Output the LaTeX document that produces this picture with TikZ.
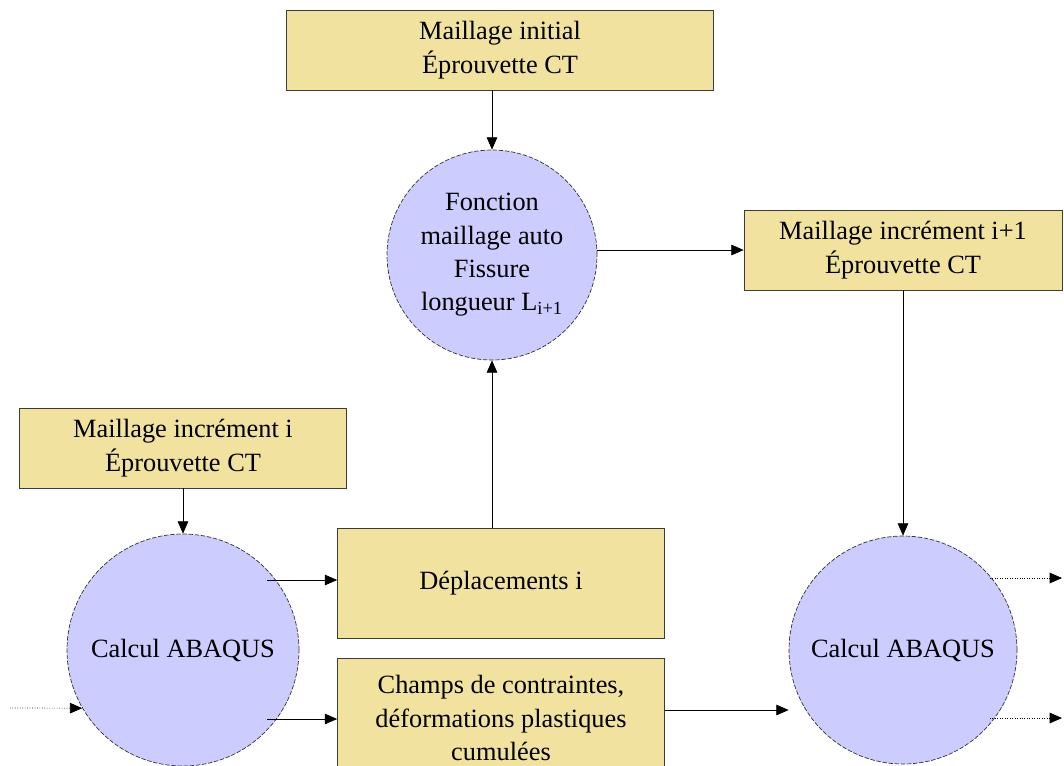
\documentclass[tikz,border=0pt]{standalone}
\usepackage{fontspec}
\setmainfont{Liberation Serif}
\usetikzlibrary{arrows.meta}

\definecolor{boitejaune}{RGB}{241,226,160}
\definecolor{rondmauve}{RGB}{204,204,255}
\definecolor{traitgris}{RGB}{60,60,60}

\tikzset{
  boite/.style={draw=traitgris, fill=boitejaune, thin, align=center,
    inner sep=0pt, font=\fontsize{15}{19}\selectfont},
  rond/.style={circle, draw=black!80, fill=rondmauve, dash pattern=on 2.5pt off 1pt,
    thin, align=center, inner sep=0pt, font=\fontsize{15}{19}\selectfont},
  fleche/.style={-{Triangle[length=7pt,width=6pt]}, black, thin},
  pointille/.style={fleche, densely dotted}
}

\begin{document}
\begin{tikzpicture}[x=0.02cm, y=-0.02cm]

  \useasboundingbox (0,0) rectangle (1064,765);
  \clip (0,0) rectangle (1064,765);

  % boites de maillage
  \node[boite, minimum width=427*0.02cm, minimum height=80*0.02cm] (initial) at (500,50)
    {Maillage initial\\ Éprouvette CT};
  \node[boite, minimum width=318*0.02cm, minimum height=80*0.02cm] (suivant) at (903,250)
    {Maillage incrément i+1\\ Éprouvette CT};
  \node[boite, minimum width=327*0.02cm, minimum height=80*0.02cm] (courant) at (183,448)
    {Maillage incrément i\\ Éprouvette CT};

  % resultats du calcul
  \node[boite, minimum width=327*0.02cm, minimum height=110*0.02cm] (depl) at (501,583)
    {Déplacements i};
  \node[boite, minimum width=327*0.02cm, minimum height=120*0.02cm] (champs) at (501,718)
    {Champs de contraintes,\\ déformations plastiques\\ cumulées};

  % fonctions et calculs
  \node[rond, minimum size=210*0.02cm] (fonction) at (492,255)
    {Fonction\\ maillage auto\\ Fissure\\ longueur L\textsubscript{i+1}};
  \node[rond, minimum size=232*0.02cm] (calculA) at (183,650) {Calcul ABAQUS};
  \node[rond, minimum size=228*0.02cm] (calculB) at (903,650) {Calcul ABAQUS};

  % points libres
  \coordinate (entree) at (10,708);
  \coordinate (sortieA) at (990,578);
  \coordinate (sortieB) at (990,718);
  \coordinate (finA) at (1062,578);
  \coordinate (finB) at (1062,718);

  % liaisons
  \draw[fleche] (initial.south -| fonction) -- (fonction.north);
  \draw[fleche] (fonction.east |- suivant) -- (suivant.west);
  \draw[fleche] (suivant.south) -- (calculB.north);
  \draw[fleche] (courant.south) -- (calculA.north);
  \draw[fleche] (267,580) -- (depl.west |- 0,580);
  \draw[fleche] (267,719) -- (champs.west |- 0,719);
  \draw[fleche] (depl.north -| fonction) -- (fonction.south);
  \draw[fleche] (champs.east |- 0,710) -- (calculB.west |- 0,710);
  \draw[pointille] (entree) -- (calculA.210);
  \draw[pointille] (sortieA) -- (finA);
  \draw[pointille] (sortieB) -- (finB);

\end{tikzpicture}
\end{document}
